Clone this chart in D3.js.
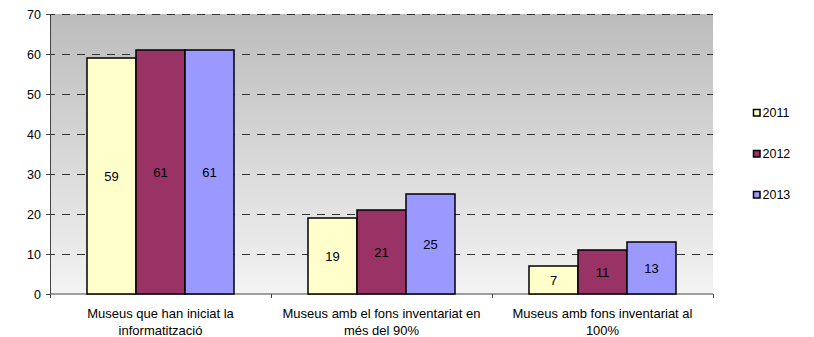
<!DOCTYPE html>
<html>
<head>
<meta charset="utf-8">
<script src="https://cdn.jsdelivr.net/npm/d3@7"></script>
<style>
  body { margin: 0; background: #fff; }
  text { font-family: "Liberation Sans", Arial, sans-serif; font-size: 13px; fill: #000; }
</style>
</head>
<body>
<div id="chart"></div>
<script>
var categories = [
    ["Museus que han iniciat la", "informatització"],
    ["Museus amb el fons inventariat en", "més del 90%"],
    ["Museus amb fons inventariat al", "100%"]
];
var series = ["2011", "2012", "2013"];
var values2011 = [59, 19, 7];
var values2012 = [61, 21, 11];
var values2013 = [61, 25, 13];
var yTicks = [0, 10, 20, 30, 40, 50, 60, 70];

var colors = ["#FFFFCC", "#993366", "#9999FF"];
var allValues = [values2011, values2012, values2013];

var width = 814, height = 337;
var margins = { left: 50, right: 101, top: 14, bottom: 43 };
var plotW = width - margins.left - margins.right;
var plotH = height - margins.top - margins.bottom;

var svg = d3.select("#chart").append("svg")
    .attr("width", width)
    .attr("height", height);

var defs = svg.append("defs");
var grad = defs.append("linearGradient")
    .attr("id", "bg")
    .attr("x1", 0).attr("y1", 0).attr("x2", 0).attr("y2", 1);
grad.append("stop").attr("offset", "0%").attr("stop-color", "#bcbcbc");
grad.append("stop").attr("offset", "100%").attr("stop-color", "#f3f3f3");

var g = svg.append("g")
    .attr("transform", "translate(" + margins.left + "," + margins.top + ")");

var x = d3.scaleBand()
    .domain(d3.range(categories.length))
    .range([0, plotW]);

// bars about 49px wide, gap of ~37px on either side of a group
var xInner = d3.scaleBand()
    .domain(series)
    .range([0, x.bandwidth()])
    .paddingOuter(0.755);

var y = d3.scaleLinear()
    .domain([0, 70])
    .range([plotH, 0]);

g.append("rect")
    .attr("width", plotW)
    .attr("height", plotH)
    .attr("fill", "url(#bg)");

// gridlines
g.selectAll("line.grid")
    .data(yTicks.filter(function (d) { return d > 0; }))
    .enter().append("line")
    .attr("class", "grid")
    .attr("x1", -3).attr("x2", plotW)
    .attr("y1", function (d) { return y(d) + 0.5; })
    .attr("y2", function (d) { return y(d) + 0.5; })
    .attr("stroke", "#333")
    .attr("stroke-dasharray", "8,7");

var yAxis = d3.axisLeft(y)
    .tickValues(yTicks)
    .tickSize(4)
    .tickPadding(5);

var yG = g.append("g").attr("class", "y axis").call(yAxis);
yG.select(".domain").attr("stroke", "#444").attr("stroke-width", 1);
yG.selectAll(".tick line").attr("stroke", "#444");
yG.selectAll("text").style("font-size", "12.5px").style("font-family", "Liberation Sans, Arial, sans-serif");

var xAxis = d3.axisBottom(d3.scaleLinear().domain([0, categories.length]).range([0, plotW]))
    .tickValues(d3.range(categories.length + 1))
    .tickSize(4)
    .tickFormat("");

var xG = g.append("g")
    .attr("transform", "translate(0," + plotH + ")")
    .call(xAxis);
xG.select(".domain").attr("stroke", "#444").attr("d", "M0.5,0H" + plotW);
xG.selectAll(".tick line").attr("stroke", "#444");

// bars
var groups = g.selectAll("g.cat")
    .data(categories)
    .enter().append("g")
    .attr("class", "cat")
    .attr("transform", function (d, i) { return "translate(" + x(i) + ",0)"; });

groups.each(function (c, i) {
    var grp = d3.select(this);
    series.forEach(function (s, k) {
        var v = allValues[k][i];
        grp.append("rect")
            .attr("x", xInner(s))
            .attr("y", y(v))
            .attr("width", xInner.bandwidth())
            .attr("height", plotH - y(v))
            .attr("fill", colors[k])
            .attr("stroke", "#000")
            .attr("stroke-width", 1.5);
        grp.append("text")
            .attr("x", xInner(s) + xInner.bandwidth() / 2)
            .attr("y", (y(v) + plotH) / 2)
            .attr("dy", "0.35em")
            .attr("text-anchor", "middle")
            .text(v);
    });
});

// category labels
groups.each(function (c, i) {
    var t = d3.select(this).append("text")
        .attr("text-anchor", "middle")
        .attr("x", x.bandwidth() / 2)
        .attr("y", plotH + 24);
    c.forEach(function (line, j) {
        t.append("tspan")
            .attr("x", x.bandwidth() / 2)
            .attr("dy", j === 0 ? 0 : 16.5)
            .text(line);
    });
});

// legend
var legend = svg.selectAll("g.legend")
    .data(series)
    .enter().append("g")
    .attr("class", "legend")
    .attr("transform", function (d, i) { return "translate(753.5," + (109.5 + i * 41) + ")"; });

legend.append("rect")
    .attr("width", 6.5).attr("height", 6.5)
    .attr("fill", function (d, i) { return colors[i]; })
    .attr("stroke", "#000")
    .attr("stroke-width", 1.5);

legend.append("text")
    .attr("x", 9)
    .attr("y", 3.5)
    .attr("dy", "0.35em")
    .style("font-size", "12.5px")
    .text(function (d) { return d; });
</script>
</body>
</html>
